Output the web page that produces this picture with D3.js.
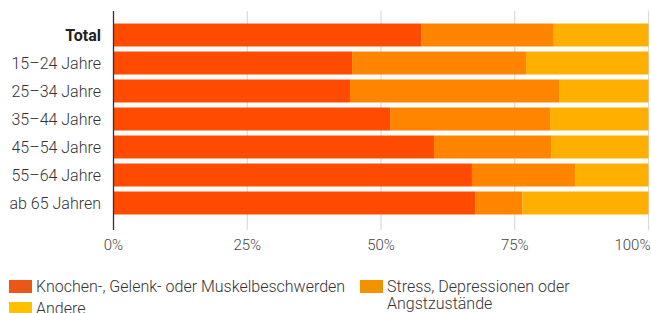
<!DOCTYPE html>
<html><head><meta charset="utf-8">
<script src="https://cdn.jsdelivr.net/npm/d3@7"></script>
<style>body{margin:0;background:#fff;font-family:Roboto,sans-serif}</style>
</head><body><svg id="c" width="651" height="313"></svg>
<script>
const categories = ["Total","15–24 Jahre","25–34 Jahre","35–44 Jahre","45–54 Jahre","55–64 Jahre","ab 65 Jahren"];
const seriesNames = ["Knochen-, Gelenk- oder Muskelbeschwerden","Stress, Depressionen oder Angstzustände","Andere"];
const knochen = [57.5,44.6,44.2,51.7,59.9,67.0,67.6];
const stress  = [24.8,32.5,39.1,29.9,21.9,19.3,8.8];
const andere  = [17.7,22.9,16.7,18.4,18.2,13.7,23.6];
const tickValues = [0,25,50,75,100];
const barColors = ["#FF4B00","#FF8500","#FFAF00"];
const legendColors = ["#EA5716","#F39200","#FFC000"];

const svg = d3.select("#c");
const x = d3.scaleLinear().domain([0,100]).range([113.5,648.5]);
const y = d3.scaleBand().domain(categories).range([21,217]).paddingInner(0.18).paddingOuter(0.09);

// gridlines
svg.append("g").selectAll("line").data(tickValues.slice(1)).join("line")
  .attr("x1",d=>x(d)).attr("x2",d=>x(d)).attr("y1",11).attr("y2",230)
  .attr("stroke","#d9d9d9").attr("stroke-width",1.2);

const rows = categories.map((c,i)=>({cat:c, vals:[knochen[i],stress[i],andere[i]]}));
const stack = d3.stack().keys([0,1,2]).value((d,k)=>d.vals[k]);
const series = stack(rows);
svg.append("g").selectAll("g").data(series).join("g")
  .attr("fill",(s,i)=>barColors[i])
  .selectAll("rect").data(s=>s).join("rect")
  .attr("x",d=>x(d[0])).attr("width",d=>x(Math.min(d[1],100))-x(d[0]))
  .attr("y",d=>y(d.data.cat)).attr("height",y.bandwidth());

// axis line
svg.append("line").attr("x1",x(0)).attr("x2",x(0)).attr("y1",11).attr("y2",230)
  .attr("stroke","#333").attr("stroke-width",1.3);

// y labels
svg.append("g").selectAll("text").data(categories).join("text")
  .attr("x",101).attr("y",d=>y(d)+y.bandwidth()/2).attr("dy","0.36em")
  .attr("text-anchor","end").attr("font-size",16)
  .attr("font-weight",(d,i)=>i===0?"bold":"300")
  .attr("fill",(d,i)=>i===0?"#222":"#333")
  .text(d=>d);

// x tick labels
const last = tickValues.length-1;
svg.append("g").selectAll("text").data(tickValues).join("text")
  .attr("x",(d,i)=>i===last?650.5:x(d)).attr("y",250)
  .attr("text-anchor",(d,i)=>i===last?"end":"middle")
  .attr("font-size",15).attr("font-weight","300").attr("fill","#444").text(d=>d+"%");

// legend
const lg = svg.append("g");
const legendItems = [
  {x:9,y:280,lines:["Knochen-, Gelenk- oder Muskelbeschwerden"]},
  {x:360,y:280,lines:["Stress, Depressionen oder","Angstzustände"]},
  {x:9,y:302,lines:["Andere"]}
];
legendItems.forEach((it,i)=>{
  lg.append("rect").attr("x",it.x).attr("y",it.y).attr("width",23).attr("height",13).attr("fill",legendColors[i]);
  const t = lg.append("text").attr("x",it.x+27).attr("y",it.y+12).attr("font-size",16).attr("font-weight","300").attr("fill","#333");
  it.lines.forEach((l,j)=>t.append("tspan").attr("x",it.x+27).attr("dy",j?17:0).text(l));
});
</script></body></html>
